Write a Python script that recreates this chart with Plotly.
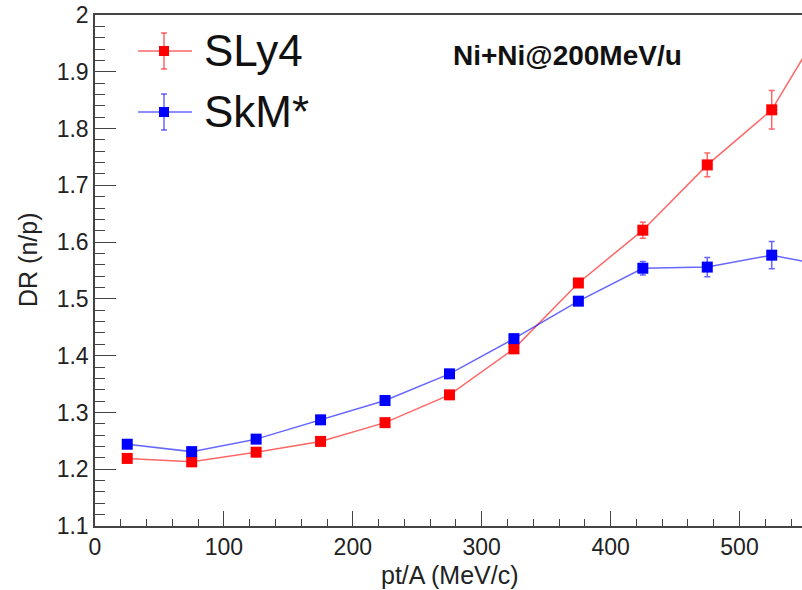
import plotly.graph_objects as go

# ---- data ----
pt = [25, 75, 125, 175, 225, 275, 325, 375, 425, 475, 525, 575]
sly4 = [1.219, 1.213, 1.230, 1.249, 1.282, 1.331, 1.412, 1.528, 1.621, 1.736, 1.833, 2.022]
sly4_err = [0.004, 0.004, 0.004, 0.004, 0.005, 0.005, 0.006, 0.007, 0.014, 0.021, 0.034, 0.045]
skm = [1.244, 1.231, 1.253, 1.287, 1.321, 1.368, 1.430, 1.496, 1.554, 1.556, 1.577, 1.555]
skm_err = [0.004, 0.004, 0.004, 0.004, 0.005, 0.005, 0.005, 0.006, 0.012, 0.017, 0.024, 0.030]

y_ticks = [1.1, 1.2, 1.3, 1.4, 1.5, 1.6, 1.7, 1.8, 1.9, 2.0]
y_ticktext = ["1.1", "1.2", "1.3", "1.4", "1.5", "1.6", "1.7", "1.8", "1.9", "2"]
x_ticks = [0, 100, 200, 300, 400, 500]
x_ticktext = ["0", "100", "200", "300", "400", "500"]

series_names = ["SLy4", "SkM*"]
x_title = "pt/A (MeV/c)"
y_title = "DR (n/p)"
label_text = "<b>Ni+Ni@200MeV/u</b>"

RED_LINE = "rgba(255,0,0,0.6)"
BLUE_LINE = "rgba(0,0,255,0.6)"
FONT = "Liberation Sans, Arial, Helvetica"

W, H = 802, 590
L, R, T, B = 95, 0, 15, 64
pw, ph = W - L - R, H - T - B

fig = go.Figure()
for name, vals, errs, mcol, lcol in [
    (series_names[0], sly4, sly4_err, "#ff0000", RED_LINE),
    (series_names[1], skm, skm_err, "#0000ff", BLUE_LINE),
]:
    fig.add_trace(go.Scatter(
        x=pt, y=vals, name=name, mode="lines+markers",
        line=dict(color=lcol, width=1.5),
        marker=dict(symbol="square", size=11, color=mcol, line=dict(width=0)),
        error_y=dict(type="data", array=errs, visible=True, color=lcol, thickness=1.5, width=3),
        cliponaxis=True, showlegend=False,
    ))

def px_x(px):
    return (px - L) / pw

def px_y(py):
    return (H - B - py) / ph

shapes = []
annotations = []
# custom legend (ROOT style, with error bars)
for i, (name, mcol, lcol) in enumerate([(series_names[0], "#ff0000", RED_LINE),
                                         (series_names[1], "#0000ff", BLUE_LINE)]):
    cy = 51 + i * 61
    shapes.append(dict(type="line", xref="paper", yref="paper",
                       x0=px_x(138), x1=px_x(192), y0=px_y(cy), y1=px_y(cy),
                       line=dict(color=lcol, width=1.5)))
    shapes.append(dict(type="line", xref="paper", yref="paper",
                       x0=px_x(164), x1=px_x(164), y0=px_y(cy - 18), y1=px_y(cy + 18),
                       line=dict(color=lcol, width=1.5)))
    for dy in (-18, 18):
        shapes.append(dict(type="line", xref="paper", yref="paper",
                           x0=px_x(161), x1=px_x(167), y0=px_y(cy + dy), y1=px_y(cy + dy),
                           line=dict(color=lcol, width=1.5)))
    shapes.append(dict(type="rect", xref="paper", yref="paper",
                       x0=px_x(159), x1=px_x(169), y0=px_y(cy + 5), y1=px_y(cy - 5),
                       fillcolor=mcol, line=dict(width=0)))
    annotations.append(dict(text=name, xref="paper", yref="paper",
                            x=px_x(202), y=px_y(cy - 1), xanchor="left", yanchor="middle",
                            showarrow=False,
                            font=dict(family=FONT, size=44, color="#111")))

annotations.append(dict(text=label_text, xref="paper", yref="paper",
                        x=px_x(451), y=px_y(55), xanchor="left", yanchor="middle",
                        showarrow=False,
                        font=dict(family=FONT, size=28, color="#111")))
annotations.append(dict(text=x_title, xref="paper", yref="paper",
                        x=px_x(450), y=px_y(590), xanchor="center", yanchor="bottom",
                        showarrow=False, borderpad=0,
                        font=dict(family=FONT, size=25, color="#222")))
annotations.append(dict(text=y_title, xref="paper", yref="paper",
                        x=px_x(28), y=px_y(260), xanchor="center", yanchor="middle",
                        textangle=-90, showarrow=False,
                        font=dict(family=FONT, size=25, color="#222")))

axis_font = dict(family=FONT, size=23, color="#222")
fig.update_layout(
    width=W, height=H,
    margin=dict(l=L, r=R, t=T, b=B, autoexpand=False),
    paper_bgcolor="white", plot_bgcolor="white",
    shapes=shapes, annotations=annotations,
    xaxis=dict(range=[0, (W - L) / 128.9 * 100], tickvals=x_ticks, ticktext=x_ticktext,
               ticks="inside", ticklen=15, tickwidth=1.2, tickcolor="#444",
               minor=dict(ticks="inside", ticklen=7, dtick=20, tickwidth=1.2, tickcolor="#444"),
               showline=True, linecolor="#444", linewidth=1.5, mirror=True,
               showgrid=False, zeroline=False, tickfont=axis_font),
    yaxis=dict(range=[1.1, 2.0], tickvals=y_ticks, ticktext=y_ticktext,
               ticks="inside", ticklen=21, tickwidth=1.2, tickcolor="#444",
               minor=dict(ticks="inside", ticklen=10, dtick=0.02, tickwidth=1.2, tickcolor="#444"),
               showline=True, linecolor="#444", linewidth=1.5,
               showgrid=False, zeroline=False, tickfont=axis_font),
)

fig.write_html("out.html")
